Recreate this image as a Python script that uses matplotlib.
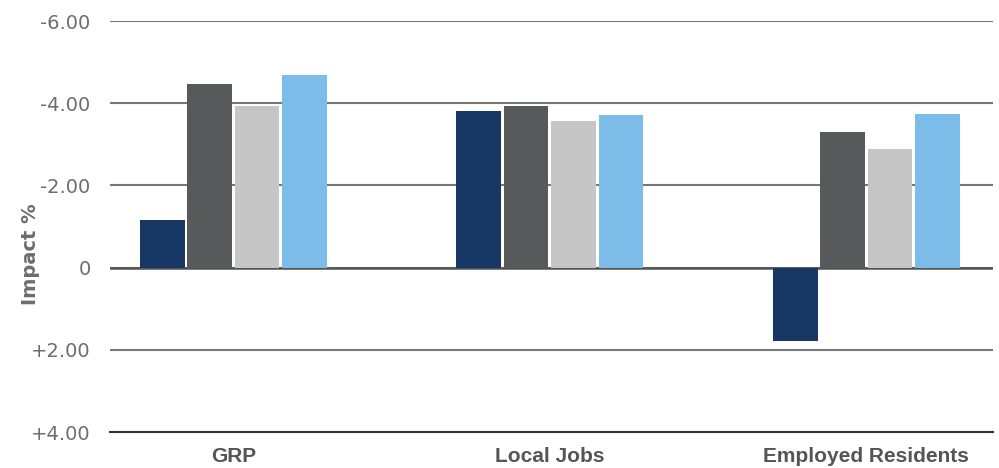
import matplotlib
matplotlib.use("Agg")
import matplotlib.pyplot as plt
import numpy as np

categories = ["GRP", "Local Jobs", "Employed Residents"]
series1 = [-1.15, -3.80, 1.78]
series2 = [-4.46, -3.93, -3.29]
series3 = [-3.93, -3.56, -2.88]
series4 = [-4.68, -3.71, -3.73]
series = [series1, series2, series3, series4]
colors = ["#173865", "#58595b", "#c6c6c6", "#7bbce8"]
yticks = [-6, -4, -2, 0, 2, 4]
ytick_labels = ["-6.00", "-4.00", "-2.00", "0", "+2.00", "+4.00"]

fig = plt.figure(figsize=(9.99, 4.68), dpi=100)
ax = fig.add_axes([110/999, 1-432/468, (993-110)/999, (432-21)/468])

x = np.arange(len(categories))
w = 0.15
for i, (vals, c) in enumerate(zip(series, colors)):
    ax.bar(x + (i - 1.5) * w, vals, width=w * 0.94, color=c, linewidth=0,
           zorder=3)

ax.set_ylim(4, -6)
ax.set_xlim(-0.39, 2.40)
ax.set_yticks(yticks)
ax.set_yticklabels(ytick_labels, fontsize=14, color="#6d6d6d")
ax.yaxis.grid(True, color="#777777", linewidth=1.5, zorder=0)
ax.tick_params(axis="y", length=0, pad=14)
ax.set_xticks(x)
ax.set_xticklabels(categories, fontsize=15, fontweight="bold", color="#555555",
                   family=["Liberation Sans Narrow", "Liberation Sans", "DejaVu Sans"])
ax.tick_params(axis="x", length=0, pad=11)
for s in ["top", "right", "left"]:
    ax.spines[s].set_visible(False)
ax.spines["bottom"].set_color("#333333")
ax.spines["bottom"].set_linewidth(1.5)
ax.axhline(0, color="#555555", linewidth=1.8, zorder=2)

fig.text(30/999, 1-254/468, "Impact %", rotation=90, ha="center", va="center",
         fontsize=14, fontweight="bold", color="#6d6d6d")

fig.savefig("out.png", dpi=100)
